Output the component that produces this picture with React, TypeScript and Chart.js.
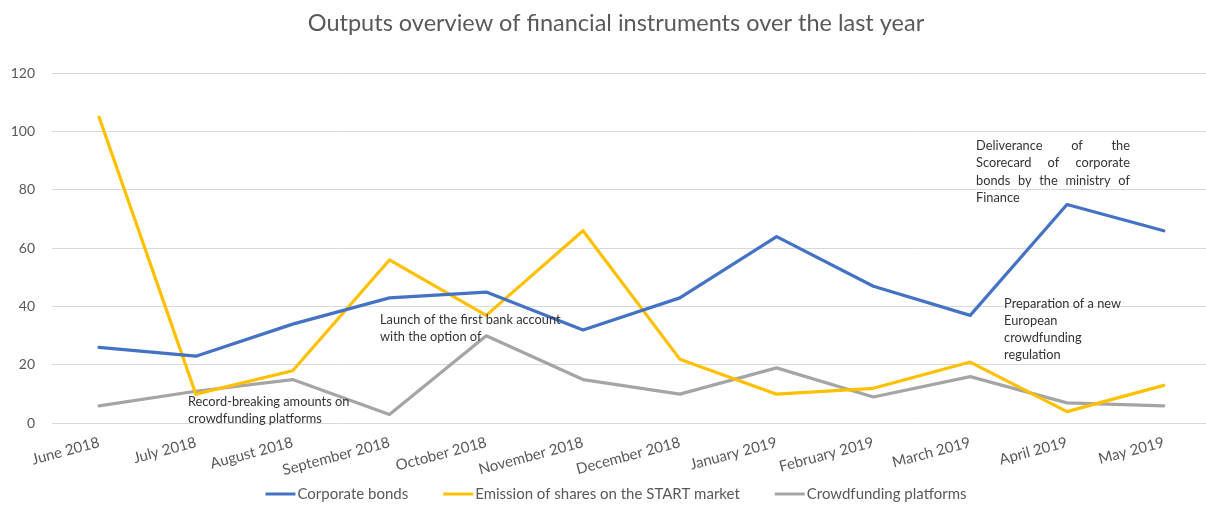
import React, { useEffect, useRef } from "react";
import { Chart, registerables } from "chart.js";

Chart.register(...registerables);

// ---- data ----
const months = [
  "June 2018",
  "July 2018",
  "August 2018",
  "September 2018",
  "October 2018",
  "November 2018",
  "December 2018",
  "January 2019",
  "February 2019",
  "March 2019",
  "April 2019",
  "May 2019",
];
const corporateBonds = [26, 23, 34, 43, 45, 32, 43, 64, 47, 37, 75, 66];
const emissionShares = [105, 10, 18, 56, 37, 66, 22, 10, 12, 21, 4, 13];
const crowdfunding = [6, 11, 15, 3, 30, 15, 10, 19, 9, 16, 7, 6];
const seriesNames = [
  "Corporate bonds",
  "Emission of shares on the START market",
  "Crowdfunding platforms",
];
const titleText = "Outputs overview of financial instruments over the last year";

const noteRecord = ["Record-breaking amounts on", "crowdfunding platforms"];
const noteLaunch = ["Launch of the first bank account", "with the option of"];
const noteDeliverance = [
  "Deliverance of the",
  "Scorecard of corporate",
  "bonds by the ministry of",
  "Finance",
];
const notePreparation = [
  "Preparation of a new",
  "European",
  "crowdfunding",
  "regulation",
];

// annotation anchors (category index, value)
const notes = [
  { lines: noteRecord, at: 0.919, value: 7.3 },
  { lines: noteLaunch, at: 2.903, value: 35.4 },
  { lines: noteDeliverance, at: 9.06, value: 95.1, justifyTo: 10.65 },
  { lines: notePreparation, at: 9.35, value: 41.1 },
];

const FONT = "Lato, 'Open Sans', 'DejaVu Sans', sans-serif";
const GREY_TEXT = "#595959";

const notesPlugin = {
  id: "notesPlugin",
  afterDatasetsDraw(chart: any) {
    const { ctx, scales } = chart;
    const x = scales.x;
    const y = scales.y;
    const lineH = 17.3;
    ctx.save();
    ctx.font = `12.8px ${FONT}`;
    ctx.fillStyle = "#333333";
    ctx.textBaseline = "middle";
    ctx.textAlign = "left";
    notes.forEach((n: any) => {
      const left = x.getPixelForValue(n.at);
      const top = y.getPixelForValue(n.value);
      n.lines.forEach((line: string, k: number) => {
        const yy = top + k * lineH;
        if (n.justifyTo !== undefined && k < n.lines.length - 1) {
          const right = x.getPixelForValue(n.justifyTo);
          const words = line.split(" ");
          const wordsW = words.reduce((s, w) => s + ctx.measureText(w).width, 0);
          const gap = words.length > 1 ? (right - left - wordsW) / (words.length - 1) : 0;
          let cx = left;
          words.forEach((w) => {
            ctx.fillText(w, cx, yy);
            cx += ctx.measureText(w).width + gap;
          });
        } else {
          ctx.fillText(line, left, yy);
        }
      });
    });
    ctx.restore();
  },
};

// Excel-style legend: short line sample, tight gap, then the label
const lineLegendPlugin = {
  id: "lineLegendPlugin",
  afterDraw(chart: any) {
    const { ctx } = chart;
    const tb = chart.titleBlock;
    const centerX = tb ? (tb.left + tb.right) / 2 : chart.width / 2;
    const cy = 494;
    const sample = 30;
    const textGap = 2;
    const itemGap = 35;
    ctx.save();
    ctx.font = `15px ${FONT}`;
    ctx.textBaseline = "middle";
    ctx.textAlign = "left";
    const items = chart.data.datasets.map((ds: any) => ({
      text: ds.label,
      color: ds.borderColor,
      w: sample + textGap + ctx.measureText(ds.label).width,
    }));
    const total = items.reduce((s: number, it: any) => s + it.w, 0) + itemGap * (items.length - 1);
    let x = centerX - total / 2;
    items.forEach((it: any) => {
      ctx.strokeStyle = it.color;
      ctx.lineWidth = 3;
      ctx.lineCap = "butt";
      ctx.beginPath();
      ctx.moveTo(x, cy);
      ctx.lineTo(x + sample, cy);
      ctx.stroke();
      ctx.fillStyle = GREY_TEXT;
      ctx.fillText(it.text, x + sample + textGap, cy);
      x += it.w + itemGap;
    });
    ctx.restore();
  },
};

export default function App() {
  const canvasRef = useRef<HTMLCanvasElement | null>(null);

  useEffect(() => {
    document.body.style.margin = "0";
    const canvas = canvasRef.current;
    if (!canvas) return;
    const colors = ["#4472C4", "#FFC000", "#A5A5A5"];
    const seriesValues = [corporateBonds, emissionShares, crowdfunding];
    const chart = new Chart(canvas, {
      type: "line",
      data: {
        datasets: seriesValues.map((vals, s) => ({
          label: seriesNames[s],
          data: vals.map((v, i) => ({ x: i, y: v })),
          borderColor: colors[s],
          backgroundColor: colors[s],
          borderWidth: 3.2,
          pointRadius: 0,
          pointHoverRadius: 0,
          tension: 0,
          borderJoinStyle: "round",
          borderCapStyle: "round",
          fill: false,
        })),
      },
      options: {
        animation: false,
        responsive: false,
        maintainAspectRatio: false,
        layout: { padding: { left: 0, right: -26, top: 0, bottom: 12.7 } },
        plugins: {
          title: {
            display: true,
            text: titleText,
            color: GREY_TEXT,
            font: { family: FONT, size: 23.5, weight: "normal" },
            padding: { top: 9, bottom: 36.1 },
          },
          legend: { display: false },
          tooltip: { enabled: false },
        },
        scales: {
          x: {
            type: "linear",
            min: -0.486,
            max: 11.436,
            grid: { display: false },
            border: { display: false },
            afterBuildTicks: (scale: any) => {
              scale.ticks = months.map((_, i) => ({ value: i }));
            },
            afterFit: (scale: any) => {
              scale.height = 70;
            },
            ticks: {
              autoSkip: false,
              minRotation: 15,
              maxRotation: 15,
              color: GREY_TEXT,
              font: { family: FONT, size: 15 },
              padding: 2,
              callback: (v: any) => months[v] ?? "",
            },
          },
          y: {
            min: 0,
            max: 120,
            grid: { color: "#D9D9D9", drawTicks: false, lineWidth: 1 },
            border: { display: false },
            afterFit: (scale: any) => {
              scale.width = 52;
            },
            ticks: {
              stepSize: 20,
              color: GREY_TEXT,
              font: { family: FONT, size: 14 },
              padding: 17,
            },
          },
        },
      },
      plugins: [notesPlugin, lineLegendPlugin],
    } as any);
    return () => chart.destroy();
  }, []);

  return (
    <div style={{ position: "absolute", left: 0, top: 0, width: 1206, height: 506, background: "#fff", overflow: "hidden" }}>
      <canvas ref={canvasRef} width={1206} height={506} style={{ display: "block" }} />
    </div>
  );
}
